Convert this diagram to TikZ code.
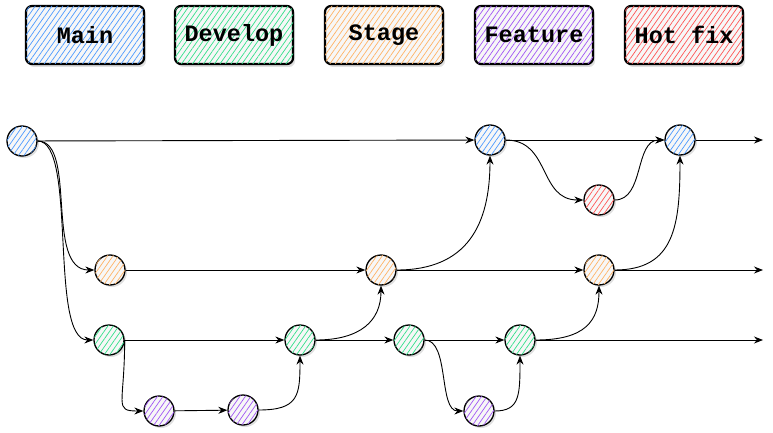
\documentclass[tikz,border=0pt]{standalone}
\usepackage{fontspec}
\setmonofont{Liberation Mono}
\usetikzlibrary{arrows.meta,patterns.meta,shadows}

\definecolor{mainblue}{HTML}{4C9AFF}
\definecolor{devgreen}{HTML}{33E08A}
\definecolor{stageorange}{HTML}{FFB366}
\definecolor{featpurple}{HTML}{A155F5}
\definecolor{fixred}{HTML}{FF5555}

\begin{document}
\begin{tikzpicture}[x=1pt,y=-1pt,
  >={Stealth[length=9pt,width=7pt]},
  hatch/.style={fill=black!3, postaction={pattern={Lines[angle=55,distance=4.5pt,line width=0.7pt]}, pattern color=#1}},
  legend/.style={draw, line width=2.2pt, rounded corners=6pt, minimum width=118pt, minimum height=58pt,
    font=\fontsize{23.5}{23.5}\selectfont\ttfamily\bfseries,
    drop shadow={opacity=0.25,shadow xshift=2pt,shadow yshift=-3pt}, hatch=#1},
  commit/.style={circle, draw, line width=1.3pt, minimum size=30pt, inner sep=0pt,
    drop shadow={opacity=0.25,shadow xshift=2pt,shadow yshift=-2pt}, hatch=#1},
  link/.style={->, line width=0.9pt}]

\useasboundingbox (0,0) rectangle (773,433);

% legend
\node[legend=mainblue] (main) at (85,35) {Main};
\node[legend=devgreen] (develop) at (234,35) {Develop};
\node[legend=stageorange] (stage) at (384,35) {Stage};
\node[legend=featpurple] (feature) at (534,35) {Feature};
\node[legend=fixred] (hotfix) at (684,35) {Hot fix};

% commits
\node[commit=mainblue] (m1) at (22,141) {};
\node[commit=mainblue] (m2) at (490,140) {};
\node[commit=mainblue] (m3) at (680,140) {};
\node[commit=fixred] (h1) at (599,200) {};
\node[commit=stageorange] (s1) at (110,270) {};
\node[commit=stageorange] (s2) at (381,270) {};
\node[commit=stageorange] (s3) at (599,270) {};
\node[commit=devgreen] (d1) at (109,340) {};
\node[commit=devgreen] (d2) at (300,340) {};
\node[commit=devgreen] (d3) at (409,340) {};
\node[commit=devgreen] (d4) at (520,340) {};
\node[commit=featpurple] (f1) at (159,411) {};
\node[commit=featpurple] (f2) at (243,410) {};
\node[commit=featpurple] (f3) at (479,411) {};

\coordinate (e1) at (763,140);
\coordinate (e2) at (763,270);
\coordinate (e3) at (763,340);

% main line
\draw[link] (m1) -- (m2);
\draw[link] (m2) -- (m3);
\draw[link] (m3) -- (e1);
\draw[link] (m2.east) .. controls +(45,0) and +(-45,0) .. (h1.west);
\draw[link] (h1.east) .. controls +(30,0) and +(-30,0) .. (m3.west);

% branches off main
\draw[link] (m1.east) .. controls +(40,0) and +(-50,0) .. (s1.west);
\draw[link] (m1.east) .. controls +(40,0) and +(-45,0) .. (d1.west);

% stage line
\draw[link] (s1) -- (s2);
\draw[link] (s2) -- (s3);
\draw[link] (s3) -- (e2);
\draw[link] (s2.east) .. controls +(70,0) and +(0,70) .. (m2.south);
\draw[link] (s3.east) .. controls +(60,0) and +(0,70) .. (m3.south);

% develop line
\draw[link] (d1) -- (d2);
\draw[link] (d2) -- (d3);
\draw[link] (d3) -- (d4);
\draw[link] (d4) -- (e3);
\draw[link] (d2.east) .. controls +(45,0) and +(0,35) .. (s2.south);
\draw[link] (d4.east) .. controls +(50,0) and +(0,35) .. (s3.south);

% feature line
\draw[link] (d1.east) .. controls +(0,65) and +(-30,0) .. (f1.west);
\draw[link] (f1) -- (f2);
\draw[link] (f2.east) .. controls +(40,0) and +(0,40) .. (d2.south);
\draw[link] (d3.east) .. controls +(25,0) and +(-25,0) .. (f3.west);
\draw[link] (f3.east) .. controls +(25,0) and +(0,40) .. (d4.south);

\end{tikzpicture}
\end{document}
